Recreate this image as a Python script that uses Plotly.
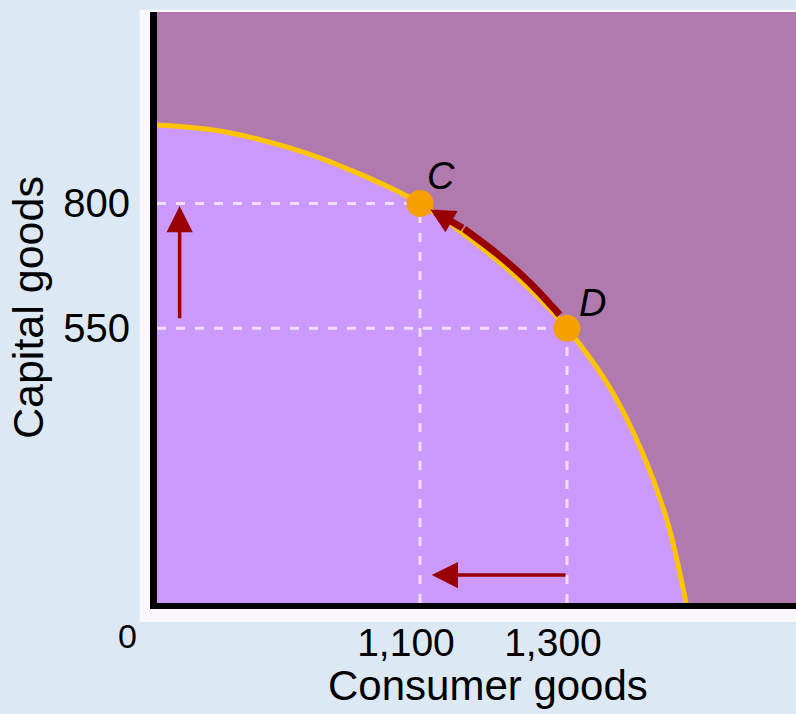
import plotly.graph_objects as go

# ---- data ----
frontier_x = [742, 828, 923, 1005, 1100, 1205, 1250, 1300, 1358, 1403, 1436, 1462]
frontier_y = [957, 945, 911, 867, 800, 686, 627, 550, 432, 300, 166, 0]

point_names = ["C", "D"]
point_x = [1100, 1300]
point_y = [800, 550]

x_tick_vals = [1100, 1300]
x_tick_text = ["1,100", "1,300"]
y_tick_vals = [550, 800]
y_tick_text = ["550", "800"]

# movement arrows
curve_arrow_x = [1290, 1250, 1205, 1160]
curve_arrow_y = [577, 640, 699, 749]
curve_arrow_tip = (1114, 788)
up_arrow_x = 773
up_arrow_from, up_arrow_to = 567, 795
left_arrow_y = 56
left_arrow_from, left_arrow_to = 1300, 1116

X_RANGE = [742.2, 1611.6]
Y_RANGE = [0, 1183.2]

FONT = "Liberation Sans, Arial, sans-serif"
DARK_RED = "#990000"
LIGHT = "#cc99ff"
MAUVE = "#b07aae"
GOLD = "#ffc400"
ORANGE = "#f59f00"
DASH_COL = "#eedff7"
PAGE_BG = "#dce8f4"

fig = go.Figure()

# frontier with fill beneath
fig.add_trace(go.Scatter(
    x=frontier_x, y=frontier_y, mode="lines",
    line=dict(color=GOLD, width=5, shape="spline", smoothing=1.0),
    fill="tozeroy", fillcolor=LIGHT, hoverinfo="skip", showlegend=False))

# dashed guide lines
for px, py in zip(point_x, point_y):
    fig.add_trace(go.Scatter(x=[X_RANGE[0], px], y=[py, py], mode="lines",
                             line=dict(color=DASH_COL, width=3, dash="9px,10px"),
                             hoverinfo="skip", showlegend=False))
    fig.add_trace(go.Scatter(x=[px, px], y=[0, py], mode="lines",
                             line=dict(color=DASH_COL, width=3, dash="9px,10px"),
                             hoverinfo="skip", showlegend=False))

# curved arrow shaft from D towards C
fig.add_trace(go.Scatter(x=curve_arrow_x, y=curve_arrow_y, mode="lines",
                         line=dict(color=DARK_RED, width=7, shape="spline", smoothing=0.8),
                         hoverinfo="skip", showlegend=False))

# points C, D
fig.add_trace(go.Scatter(x=point_x, y=point_y, mode="markers",
                         marker=dict(color=ORANGE, size=27),
                         hoverinfo="skip", showlegend=False))

annotations = []
# arrows
annotations.append(dict(x=curve_arrow_tip[0], y=curve_arrow_tip[1],
                        ax=curve_arrow_x[-1], ay=curve_arrow_y[-1],
                        xref="x", yref="y", axref="x", ayref="y", text="",
                        showarrow=True, arrowhead=2, arrowwidth=7, arrowsize=0.7,
                        arrowcolor=DARK_RED))
annotations.append(dict(x=up_arrow_x, y=up_arrow_to, ax=up_arrow_x, ay=up_arrow_from,
                        xref="x", yref="y", axref="x", ayref="y", text="",
                        showarrow=True, arrowhead=2, arrowwidth=3.5, arrowsize=1.5,
                        arrowcolor=DARK_RED))
annotations.append(dict(x=left_arrow_to, y=left_arrow_y, ax=left_arrow_from, ay=left_arrow_y,
                        xref="x", yref="y", axref="x", ayref="y", text="",
                        showarrow=True, arrowhead=2, arrowwidth=3.5, arrowsize=1.5,
                        arrowcolor=DARK_RED))
# point labels
label_shift = {"C": (21, 27), "D": (26, 25)}
for name, px, py in zip(point_names, point_x, point_y):
    sx, sy = label_shift[name]
    annotations.append(dict(x=px, y=py, xref="x", yref="y", text=f"<i>{name}</i>",
                            showarrow=False, xshift=sx, yshift=sy,
                            font=dict(family=FONT, size=38, color="black")))
# axis titles and origin
annotations.append(dict(x=0.518, y=-0.1404, xref="paper", yref="paper",
                        text="Consumer goods", showarrow=False,
                        xanchor="center", yanchor="middle",
                        font=dict(family=FONT, size=42, color="black")))
annotations.append(dict(x=-0.2019, y=0.5008, xref="paper", yref="paper",
                        text="Capital goods", showarrow=False, textangle=-90,
                        xanchor="center", yanchor="middle",
                        font=dict(family=FONT, size=43, color="black")))
annotations.append(dict(x=-0.0469, y=-0.0558, xref="paper", yref="paper",
                        text="0", showarrow=False, xanchor="center", yanchor="middle",
                        font=dict(family=FONT, size=34, color="black")))

shapes = [
    # white frame around the plot
    dict(type="rect", xref="paper", yref="paper", x0=-0.027, x1=1.05, y0=-0.032, y1=1.004,
         fillcolor="#fbf8fb", line=dict(width=0), layer="below"),
    # dark plot region
    dict(type="rect", xref="paper", yref="paper", x0=0, x1=1.05, y0=0, y1=1,
         fillcolor=MAUVE, line=dict(width=0), layer="below"),
]

fig.update_layout(
    width=796, height=714,
    margin=dict(l=157, r=0, t=12, b=111),
    paper_bgcolor=PAGE_BG,
    plot_bgcolor="rgba(0,0,0,0)",
    showlegend=False,
    annotations=annotations,
    shapes=shapes,
    xaxis=dict(range=X_RANGE, tickvals=x_tick_vals, ticktext=x_tick_text,
               showgrid=False, zeroline=False, showline=True, linecolor="black",
               linewidth=6, ticks="",
               ticklabelshift=-14,
               tickfont=dict(family=FONT, size=39, color="black"), fixedrange=True),
    yaxis=dict(range=Y_RANGE, tickvals=y_tick_vals, ticktext=y_tick_text,
               showgrid=False, zeroline=False, showline=True, linecolor="black",
               linewidth=7, ticks="outside", ticklen=12, tickcolor="rgba(0,0,0,0)",
               tickfont=dict(family=FONT, size=40, color="black"), fixedrange=True),
)

fig.write_html("out.html",
               config={"displayModeBar": False, "staticPlot": True},
               post_script="document.body.style.margin='0';"
                           "document.body.style.background='" + PAGE_BG + "';")
